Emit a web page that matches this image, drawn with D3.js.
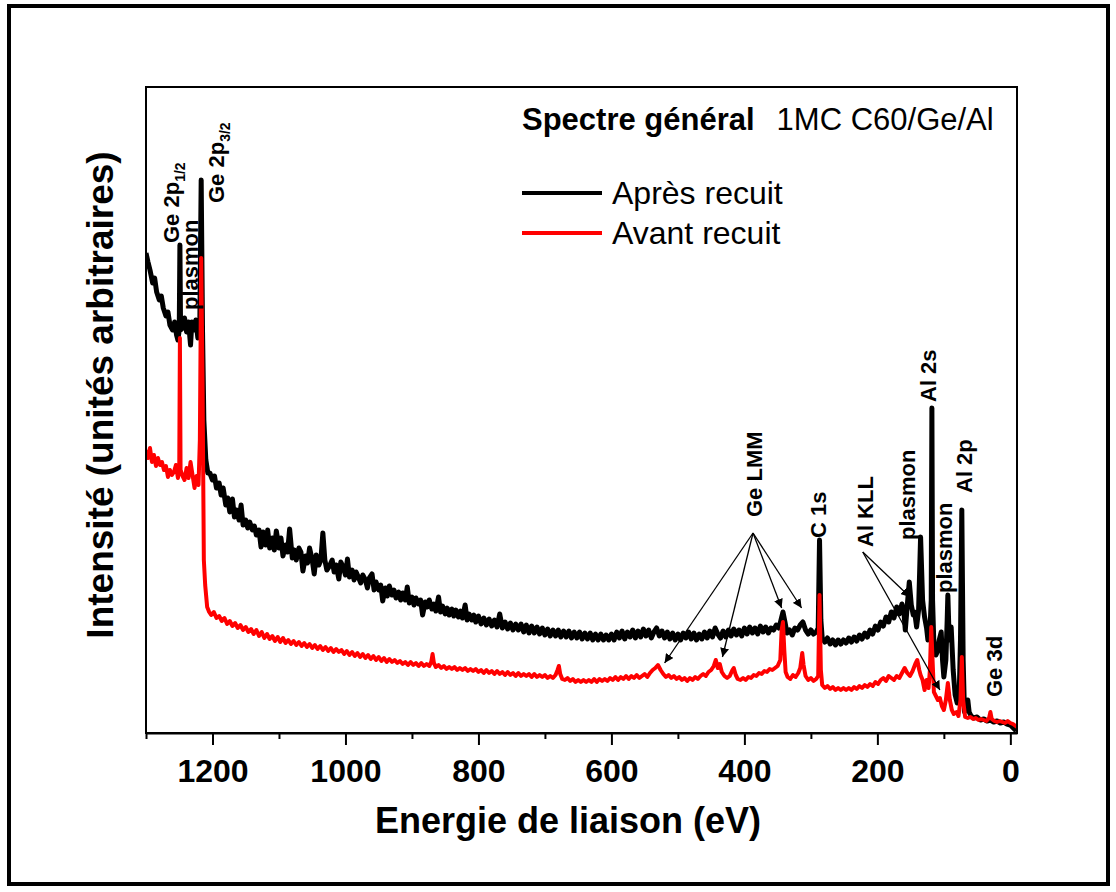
<!DOCTYPE html>
<html>
<head>
<meta charset="utf-8">
<script src="https://cdn.jsdelivr.net/npm/d3@7"></script>
<style>
  body { margin: 0; background: #fff; }
  text { font-family: "Liberation Sans", Arial, sans-serif; }
</style>
</head>
<body>
<div id="chart"></div>
<script>
// spectre XPS, energie de liaison (eV) / intensite (u.a.)
const apresRecuit = [
  [1300,48.0],[1297,47.1],[1294,46.3],[1290,45.0],[1287,45.5],[1284,44.1],[1280,43.3],[1277,43.7],
  [1274,42.5],[1270,41.7],[1267,42.1],[1264,40.8],[1260,40.3],[1257,41.1],[1254,39.8],[1252,39.3],
  [1250,40.3],[1249,48.8],[1248,40.3],[1245,40.5],[1242,41.5],[1239,40.1],[1236,41.1],[1233,38.8],
  [1231,41.1],[1228,40.3],[1225,41.3],[1222,39.5],[1219,41.3],[1217,55.3],[1215,40.3],[1213,31.3],
  [1210,27.3],[1207,26.0],[1204,26.0],[1200,25.3],[1197,25.7],[1194,24.5],[1190,25.0],[1187,23.8],
  [1184,24.5],[1180,22.8],[1177,23.5],[1174,22.1],[1170,23.4],[1167,21.6],[1164,22.3],[1160,21.3],
  [1157,22.8],[1154,20.8],[1150,21.3],[1147,20.5],[1144,21.1],[1140,20.3],[1137,20.7],[1134,19.8],
  [1130,20.3],[1127,18.6],[1124,20.1],[1120,18.8],[1117,20.3],[1114,18.5],[1110,19.5],[1107,18.3],
  [1104,20.2],[1100,18.5],[1097,19.5],[1094,17.7],[1090,18.8],[1087,18.1],[1084,20.4],[1080,17.5],
  [1077,18.3],[1074,17.3],[1070,18.5],[1067,18.1],[1064,16.2],[1060,17.7],[1057,17.0],[1054,18.5],
  [1050,17.3],[1047,15.9],[1044,17.8],[1040,16.8],[1037,17.3],[1034,20.0],[1031,17.3],[1028,16.3],
  [1024,16.7],[1020,17.3],[1017,16.1],[1014,16.8],[1010,15.4],[1007,17.1],[1004,16.7],[1000,15.8],
  [997,17.4],[994,15.6],[990,16.3],[987,15.3],[984,16.1],[980,15.5],[977,15.0],[974,15.8],
  [970,15.3],[967,14.5],[964,15.5],[960,15.9],[957,14.3],[954,15.1],[950,14.3],[947,14.8],
  [944,13.2],[940,14.5],[937,13.7],[934,14.7],[930,13.8],[927,14.3],[924,13.5],[920,14.1],
  [917,13.3],[914,14.0],[910,13.3],[907,14.6],[904,13.0],[900,13.6],[897,12.8],[894,13.5],
  [890,12.9],[887,13.3],[884,11.8],[880,13.1],[877,12.6],[874,13.3],[870,12.4],[867,12.9],
  [864,12.2],[860,13.6],[857,12.1],[854,12.7],[850,11.9],[847,12.5],[844,11.8],[840,12.4],
  [837,11.7],[834,12.3],[830,11.6],[827,12.2],[824,11.5],[820,12.8],[817,11.3],[814,11.9],
  [810,11.3],[807,11.8],[804,11.1],[800,11.7],[796,10.9],[792,11.5],[788,10.8],[784,11.4],
  [780,10.7],[776,11.3],[772,10.6],[768,11.9],[764,10.5],[760,11.1],[756,10.4],[752,11.0],
  [748,10.3],[744,10.9],[740,10.3],[736,10.9],[732,10.1],[728,10.8],[724,10.0],[720,10.7],
  [716,10.0],[712,10.6],[708,9.9],[704,10.5],[700,9.8],[696,10.4],[692,9.7],[688,10.3],
  [684,9.7],[680,10.3],[676,9.6],[672,10.2],[668,9.6],[664,10.2],[660,9.5],[656,10.1],
  [652,9.5],[648,10.1],[644,9.4],[640,10.0],[636,9.4],[632,10.0],[628,9.3],[624,9.9],
  [620,9.3],[616,9.9],[612,9.3],[608,9.8],[604,9.3],[600,9.9],[596,9.3],[592,10.1],
  [588,9.5],[584,10.2],[580,9.4],[576,10.1],[572,9.6],[568,10.3],[564,9.5],[560,10.2],
  [556,9.6],[552,10.4],[548,9.7],[544,10.3],[540,9.5],[536,10.1],[532,10.5],[528,9.7],
  [524,10.2],[520,9.5],[516,10.1],[512,9.4],[508,10.0],[504,9.3],[500,9.9],[496,9.3],
  [492,10.0],[488,9.5],[484,10.1],[480,9.4],[476,10.0],[472,9.3],[468,9.9],[464,9.4],
  [460,10.1],[456,9.5],[452,10.2],[448,9.6],[444,10.5],[440,9.9],[436,9.5],[432,10.2],
  [428,9.6],[424,10.3],[420,9.7],[416,10.4],[412,9.8],[408,10.3],[404,9.7],[400,10.5],
  [396,9.9],[392,10.6],[388,10.0],[384,10.5],[380,9.9],[376,10.7],[372,10.1],[368,10.6],
  [364,10.0],[360,10.5],[356,10.3],[352,10.8],[348,10.5],[345,11.3],[342,12.1],[339,11.1],
  [336,10.0],[332,10.3],[328,9.8],[324,10.5],[320,10.3],[316,10.8],[312,11.1],[308,10.3],
  [304,9.9],[300,10.3],[296,9.9],[292,10.1],[289,10.5],[287,19.3],[285,11.3],[283,9.5],
  [279,9.1],[275,9.5],[271,8.9],[267,9.3],[263,8.8],[259,9.3],[255,8.9],[251,9.3],
  [247,9.0],[243,9.5],[239,9.1],[235,9.6],[231,9.2],[227,9.8],[223,9.4],[219,10.0],
  [215,9.6],[211,10.3],[207,9.9],[203,10.7],[199,10.3],[195,11.1],[191,10.7],[187,11.6],
  [183,11.1],[179,12.1],[175,11.5],[171,12.6],[167,11.9],[163,12.9],[160,12.1],[158,10.3],
  [155,12.8],[152,15.1],[149,12.8],[146,11.8],[144,12.1],[141,10.6],[138,12.3],[135,19.6],
  [132,13.3],[129,11.6],[126,10.5],[124,9.3],[121,10.1],[119,13.3],[118,32.5],[117,13.3],
  [115,8.8],[112,7.8],[110,8.1],[107,9.3],[104,10.1],[102,7.3],[100,5.6],[97,7.3],
  [95,11.3],[94,13.8],[92,9.3],[89,10.6],[86,6.3],[83,3.8],[80,3.0],[77,3.5],
  [75,9.3],[73,22.3],[71,7.3],[69,2.1],[66,2.5],[64,3.3],[62,2.1],[59,1.7],
  [55,1.5],[50,1.6],[45,1.3],[40,1.4],[35,1.2],[30,1.3],[25,1.1],[20,1.2],
  [15,1.0],[10,1.1],[5,0.9],[0,0.8],[-3,0.6],[-6,0.4],[-9,0.2]
];

const avantRecuit = [
  [1300,28.3],[1297,27.5],[1294,28.5],[1291,27.1],[1288,27.8],[1285,26.7],[1282,27.5],[1279,26.8],
  [1276,27.1],[1273,26.3],[1270,26.7],[1267,25.6],[1264,26.3],[1261,25.8],[1258,26.1],[1255,26.8],
  [1252,25.5],[1250,26.3],[1249,39.5],[1248,26.3],[1245,25.7],[1242,25.3],[1239,26.5],[1236,25.5],
  [1233,27.1],[1230,25.8],[1227,24.5],[1224,25.7],[1221,24.8],[1219,29.3],[1217,47.5],[1215,35.3],
  [1213,17.3],[1211,14.8],[1208,12.6],[1205,12.1],[1202,11.8],[1198,12.1],[1194,11.5],[1190,11.7],
  [1186,11.2],[1182,11.5],[1178,10.9],[1174,11.2],[1170,10.7],[1166,11.0],[1162,10.5],[1158,10.8],
  [1154,10.3],[1150,10.6],[1146,10.1],[1142,10.4],[1138,9.9],[1134,10.3],[1130,9.7],[1126,10.1],
  [1122,9.5],[1118,9.9],[1114,9.4],[1110,9.7],[1106,9.2],[1102,9.6],[1098,9.1],[1094,9.5],
  [1090,9.0],[1086,9.3],[1082,8.9],[1078,9.2],[1074,8.8],[1070,9.1],[1066,8.7],[1062,9.0],
  [1058,8.6],[1054,8.9],[1050,8.5],[1046,8.8],[1042,8.4],[1038,8.7],[1034,8.3],[1030,8.6],
  [1026,8.2],[1022,8.5],[1018,8.1],[1014,8.4],[1010,8.1],[1006,8.3],[1002,7.9],[998,8.2],
  [994,7.8],[990,8.1],[986,7.7],[982,8.0],[978,7.6],[974,7.9],[970,7.5],[966,7.8],
  [962,7.4],[958,7.7],[954,7.3],[950,7.6],[946,7.2],[942,7.5],[938,7.1],[934,7.4],
  [930,7.1],[926,7.3],[922,7.0],[918,7.2],[914,6.9],[910,7.1],[906,6.8],[902,7.1],
  [898,6.8],[894,7.0],[890,6.7],[886,7.0],[882,6.7],[878,6.9],[874,6.7],[871,7.1],
  [869,7.9],[867,7.0],[864,6.6],[860,6.8],[856,6.5],[852,6.7],[848,6.4],[844,6.6],
  [840,6.4],[836,6.6],[832,6.3],[828,6.5],[824,6.3],[820,6.5],[816,6.2],[812,6.4],
  [808,6.2],[804,6.4],[800,6.1],[796,6.3],[792,6.0],[788,6.3],[784,6.0],[780,6.2],
  [776,5.9],[772,6.2],[768,5.9],[764,6.1],[760,5.8],[756,6.1],[752,5.8],[748,6.0],
  [744,5.7],[740,6.0],[736,5.7],[732,5.9],[728,5.7],[724,5.9],[720,5.6],[716,5.9],
  [712,5.6],[708,5.8],[704,5.6],[700,5.8],[696,5.5],[692,5.7],[688,5.5],[684,5.8],
  [681,6.3],[679,6.7],[677,5.9],[674,5.4],[670,5.3],[666,5.5],[662,5.2],[658,5.4],
  [654,5.1],[650,5.3],[646,5.1],[642,5.3],[638,5.1],[634,5.3],[630,5.1],[626,5.4],
  [622,5.1],[618,5.4],[614,5.2],[610,5.4],[606,5.2],[602,5.5],[598,5.3],[594,5.6],
  [590,5.3],[586,5.6],[582,5.4],[578,5.7],[574,5.4],[570,5.7],[566,5.5],[562,5.8],
  [558,5.5],[554,5.7],[550,5.9],[546,5.6],[542,6.0],[538,6.3],[534,6.5],[530,6.8],
  [526,6.3],[522,5.9],[518,5.6],[514,5.8],[510,5.5],[506,5.7],[502,5.4],[498,5.6],
  [494,5.3],[490,5.5],[486,5.2],[482,5.5],[478,5.3],[474,5.6],[470,5.4],[466,5.7],
  [462,5.9],[458,5.7],[454,6.1],[450,6.3],[446,6.7],[443,7.3],[440,6.5],[437,6.9],
  [434,6.1],[430,5.7],[426,5.5],[422,5.7],[418,6.3],[416,6.5],[413,5.8],[410,5.4],
  [406,5.3],[402,5.5],[398,5.3],[394,5.6],[390,5.5],[386,5.8],[382,5.7],[378,6.0],
  [374,5.9],[370,6.2],[366,6.1],[362,6.4],[358,6.3],[354,6.5],[350,6.7],[346,7.3],
  [344,10.3],[342,11.1],[340,8.3],[338,6.1],[335,5.6],[331,5.4],[327,5.8],[323,5.6],
  [319,6.0],[316,6.5],[313,8.0],[311,6.8],[308,5.7],[304,5.3],[300,5.5],[296,5.2],
  [292,5.4],[289,5.7],[287,13.8],[285,6.3],[283,4.8],[279,4.5],[275,4.7],[271,4.4],
  [267,4.6],[263,4.3],[259,4.5],[255,4.3],[251,4.5],[247,4.3],[243,4.5],[239,4.3],
  [235,4.6],[231,4.4],[227,4.7],[223,4.5],[219,4.8],[215,4.6],[211,4.9],[207,4.7],
  [203,5.1],[199,4.9],[195,5.3],[191,5.5],[187,5.2],[183,5.7],[179,5.5],[175,5.3],
  [171,5.7],[167,5.5],[163,6.0],[159,6.5],[155,6.0],[151,5.7],[147,6.2],[143,6.9],
  [140,7.3],[137,6.3],[135,5.8],[132,5.3],[129,4.3],[126,5.3],[123,4.5],[121,6.3],
  [119,10.6],[117,7.3],[115,4.1],[112,3.7],[109,3.3],[106,3.5],[103,2.7],[100,2.3],
  [97,3.3],[94,5.0],[91,3.3],[88,2.3],[85,1.9],[81,2.1],[78,1.7],[75,3.3],
  [73,7.6],[71,3.3],[68,1.6],[64,1.5],[60,1.6],[56,1.4],[52,1.5],[48,1.3],
  [44,1.4],[40,1.3],[36,1.2],[32,1.5],[30,2.1],[28,1.4],[24,1.2],[20,1.1],
  [16,1.2],[12,1.1],[8,1.0],[4,1.2],[0,1.0],[-4,0.9],[-8,0.7],[-10,0.6]
];

const majorTicks = [1200, 1000, 800, 600, 400, 200, 0];
const minorTicks = [1300, 1100, 900, 700, 500, 300, 100];

const series = [
  { name: "Après recuit", data: apresRecuit, color: "#000000", w: 5 },
  { name: "Avant recuit", data: avantRecuit, color: "#ff0000", w: 4 }
];

// labels of peaks: position (eV, intensite) = start of the vertical text
const peakLabels = [
  { t: "Ge 2p", sub: "1/2", e: 1250, i: 49.0 },
  { t: "plasmon", e: 1222, i: 42.3 },
  { t: "Ge 2p", sub: "3/2", e: 1183, i: 53.0 },
  { t: "Ge LMM", e: 374, i: 21.6 },
  { t: "C 1s", e: 278, i: 19.5 },
  { t: "Al KLL", e: 207, i: 18.6 },
  { t: "plasmon", e: 144, i: 19.3 },
  { t: "Al 2s", e: 112, i: 33.1 },
  { t: "plasmon", e: 88, i: 14.0 },
  { t: "Al 2p", e: 57, i: 24.0 },
  { t: "Ge 3d", e: 13, i: 3.6 }
];

const arrows = [
  { from: [387, 20.0], to: [520, 7.0] },
  { from: [387, 20.0], to: [433, 7.6] },
  { from: [387, 20.0], to: [344, 12.5] },
  { from: [387, 20.0], to: [314, 12.5] },
  { from: [222, 18.1], to: [151, 13.6] },
  { from: [222, 18.1], to: [106, 4.3] }
];

const width = 1116, height = 892;
const margin = { top: 87, right: 99, bottom: 159, left: 146 };

const svg = d3.select("#chart").append("svg")
  .attr("width", width)
  .attr("height", height);

// outer frame
svg.append("rect")
  .attr("x", 9).attr("y", 6)
  .attr("width", 1099).attr("height", 878)
  .attr("fill", "none").attr("stroke", "#000").attr("stroke-width", 4);

const x = d3.scaleLinear().domain([1300, -10]).range([margin.left, width - margin.right]);
const y = d3.scaleLinear().domain([0, 64.6]).range([height - margin.bottom, margin.top]);

const defs = svg.append("defs");
defs.append("marker")
  .attr("id", "arrowhead")
  .attr("viewBox", "0 0 10 10")
  .attr("refX", 10).attr("refY", 5)
  .attr("markerWidth", 9).attr("markerHeight", 9)
  .attr("markerUnits", "userSpaceOnUse")
  .attr("orient", "auto")
  .append("path")
  .attr("d", "M0,0 L10,5 L0,10 z")
  .attr("fill", "#000");
defs.append("clipPath").attr("id", "clip")
  .append("rect")
  .attr("x", margin.left).attr("y", margin.top)
  .attr("width", x.range()[1] - x.range()[0])
  .attr("height", y.range()[0] - y.range()[1]);

const line = d3.line()
  .x(d => x(d[0]))
  .y(d => y(d[1]));

svg.append("g").attr("clip-path", "url(#clip)")
  .selectAll("path")
  .data(series)
  .join("path")
  .attr("d", d => line(d.data))
  .attr("fill", "none")
  .attr("stroke", d => d.color)
  .attr("stroke-width", d => d.w)
  .attr("stroke-linejoin", "round");

// box
svg.append("rect")
  .attr("x", margin.left).attr("y", margin.top)
  .attr("width", x.range()[1] - x.range()[0])
  .attr("height", y.range()[0] - y.range()[1])
  .attr("fill", "none").attr("stroke", "#000").attr("stroke-width", 2);

const xAxis = svg.append("g")
  .attr("transform", "translate(0," + y.range()[0] + ")")
  .call(d3.axisBottom(x).tickValues(majorTicks).tickFormat(d3.format("d"))
    .tickSize(12).tickSizeOuter(0).tickPadding(14));
xAxis.select(".domain").attr("stroke-width", 2);
xAxis.selectAll(".tick line").attr("stroke-width", 2);
xAxis.selectAll("text")
  .attr("font-size", 32).attr("font-weight", "bold")
  .style("font-family", "'Liberation Sans', Arial, sans-serif");

const xMinor = svg.append("g")
  .attr("transform", "translate(0," + y.range()[0] + ")")
  .call(d3.axisBottom(x).tickValues(minorTicks).tickSize(6).tickSizeOuter(0).tickFormat(""));
xMinor.select(".domain").remove();
xMinor.selectAll(".tick line").attr("stroke-width", 2);

svg.append("text")
  .attr("x", 568).attr("y", 833)
  .attr("text-anchor", "middle")
  .attr("font-size", 36).attr("font-weight", "bold")
  .text("Energie de liaison (eV)");

svg.append("text")
  .attr("transform", "translate(113,395) rotate(-90)")
  .attr("text-anchor", "middle")
  .attr("font-size", 37).attr("font-weight", "bold")
  .text("Intensité (unités arbitraires)");

// arrows
svg.append("g").selectAll("line")
  .data(arrows)
  .join("line")
  .attr("x1", d => x(d.from[0])).attr("y1", d => y(d.from[1]))
  .attr("x2", d => x(d.to[0])).attr("y2", d => y(d.to[1]))
  .attr("stroke", "#000").attr("stroke-width", 1.3)
  .attr("marker-end", "url(#arrowhead)");

// peak labels
const lab = svg.append("g").selectAll("text")
  .data(peakLabels)
  .join("text")
  .attr("transform", d => "translate(" + x(d.e) + "," + y(d.i) + ") rotate(-90)")
  .attr("font-size", 22).attr("font-weight", "bold");
lab.append("tspan").text(d => d.t);
lab.filter(d => d.sub).append("tspan")
  .attr("dy", 6).attr("font-size", 14)
  .text(d => d.sub);

// title
const title = svg.append("text").attr("x", 522).attr("y", 130).attr("font-size", 31);
title.append("tspan").attr("font-weight", "bold").text("Spectre général");
title.append("tspan").attr("dx", 22).text("1MC C60/Ge/Al");

// legend
const legend = svg.append("g").selectAll("g")
  .data(series)
  .join("g")
  .attr("transform", (d, i) => "translate(522," + (193 + i * 40) + ")");
legend.append("line")
  .attr("x1", 0).attr("x2", 80)
  .attr("stroke", d => d.color).attr("stroke-width", 4);
legend.append("text")
  .attr("x", 90).attr("y", 11)
  .attr("font-size", 32)
  .text(d => d.name);
</script>
</body>
</html>
